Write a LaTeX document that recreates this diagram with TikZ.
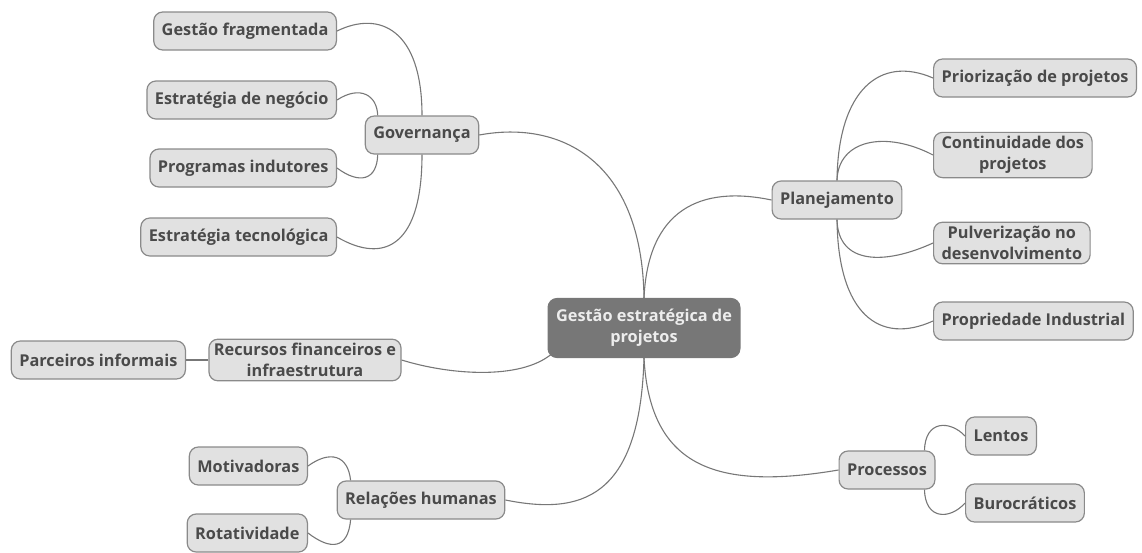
\documentclass[tikz,border=0pt]{standalone}
\usepackage{fontspec}
\setmainfont{Open Sans}
\usepackage{tikz}
\definecolor{topic}{HTML}{E1E1E1}
\definecolor{edge}{HTML}{8A8A8A}
\definecolor{label}{HTML}{4A4A4A}
\definecolor{rootfill}{HTML}{777777}
\definecolor{rootlabel}{HTML}{EDEDED}
\definecolor{wire}{HTML}{777777}

\begin{document}
\begin{tikzpicture}[
  x=1pt,y=-1pt,
  box/.style={draw=edge,fill=topic,text=label,font=\bfseries\fontsize{16.3}{21}\selectfont,rounded corners=9pt,minimum height=38pt,inner xsep=8pt,inner ysep=4pt,align=center,line width=1.2pt},
  root/.style={box,fill=rootfill,draw=rootfill,text=rootlabel,minimum height=59pt},
  link/.style={draw=wire,line width=1.1pt}
]
\useasboundingbox (0,0) rectangle (1142,552);
\node[root] (root) at (644,328) {Gestão estratégica de\\projetos};
% left side
\node[box] (gov) at (422,135) {Governança};
\node[box,anchor=east] (gf) at (337,31) {Gestão fragmentada};
\node[box,anchor=east] (en) at (337,100) {Estratégia de negócio};
\node[box,anchor=east] (pi) at (337,168) {Programas indutores};
\node[box,anchor=east] (et) at (337,237) {Estratégia tecnológica};
\node[box,inner xsep=5pt] (rec) at (305,360) {Recursos financeiros e\\infraestrutura};
\node[box,anchor=east] (parc) at (186,360) {Parceiros informais};
\node[box] (rel) at (421,500) {Relações humanas};
\node[box,anchor=east] (mot) at (308,466) {Motivadoras};
\node[box,anchor=east] (rot) at (308,533) {Rotatividade};
% right side
\node[box] (plan) at (837,200) {Planejamento};
\node[box,anchor=west] (prio) at (933,78) {Priorização de projetos};
\node[box,anchor=west] (cont) at (933,155) {Continuidade dos\\projetos};
\node[box,anchor=west] (pulv) at (933,243) {Pulverização no\\desenvolvimento};
\node[box,anchor=west] (prop) at (933,321) {Propriedade Industrial};
\node[box] (proc) at (887,470) {Processos};
\node[box,anchor=west] (lent) at (965,436) {Lentos};
\node[box,anchor=west] (buro) at (965,503) {Burocráticos};

\draw[link] (root.north) .. controls (642,160) and (560,120) .. (gov.east);
\draw[link] (root.north) .. controls (648,210) and (700,185) .. (plan.west);
\draw[link] (root.south) .. controls (650,470) and (720,490) .. (proc.west);
\draw[link] (root.south) .. controls (640,500) and (580,515) .. (rel.east);
\draw[link] ([shift={(4,-4)}]root.south west) .. controls (520,380) and (450,375) .. (rec.east);

\draw[link] (gov.north) .. controls (422,30) and (380,10) .. (gf.east);
\draw[link] ([xshift=13]gov.north west) .. controls (377,95) and (360,85) .. (en.east);
\draw[link] ([xshift=13]gov.south west) .. controls (377,180) and (360,185) .. (pi.east);
\draw[link] (gov.south) .. controls (422,245) and (385,265) .. (et.east);
\draw[link] (rec) -- (parc);
\draw[link] ([xshift=14]rel.north west) .. controls (348,455) and (330,450) .. (mot.east);
\draw[link] ([xshift=14]rel.south west) .. controls (348,550) and (330,550) .. (rot.east);

\draw[link] (plan.north) .. controls (838,90) and (880,55) .. (prio.west);
\draw[link] (plan.north) .. controls (838,140) and (885,130) .. (cont.west);
\draw[link] (plan.south) .. controls (838,265) and (885,265) .. (pulv.west);
\draw[link] (plan.south) .. controls (838,315) and (880,345) .. (prop.west);
\draw[link] ([xshift=-11]proc.north east) .. controls (925,420) and (950,420) .. (lent.west);
\draw[link] ([xshift=-11]proc.south east) .. controls (925,520) and (950,520) .. (buro.west);
\end{tikzpicture}
\end{document}
